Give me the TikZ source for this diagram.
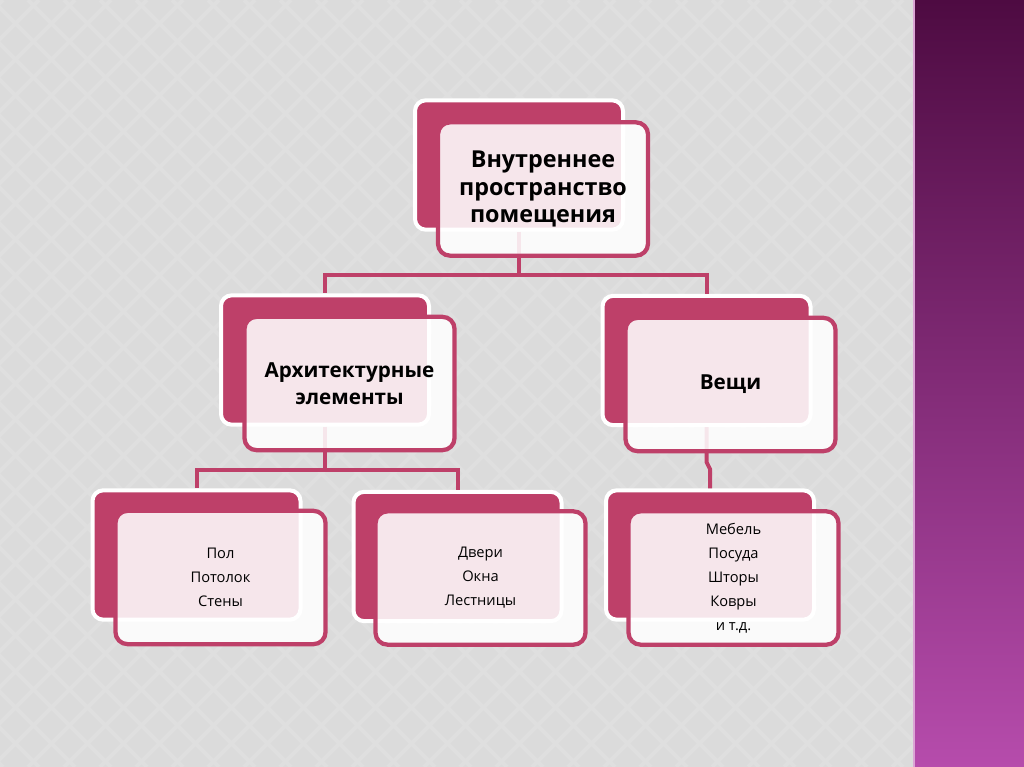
\documentclass[tikz,border=0pt]{standalone}
\usepackage{fontspec}
\setmainfont{Open Sans}
\usetikzlibrary{positioning}
\definecolor{rose}{RGB}{190,64,105}
\definecolor{bggray}{RGB}{219,219,219}
\definecolor{bgline}{RGB}{223,223,223}
\definecolor{plumtop}{RGB}{78,11,66}
\definecolor{plumbot}{RGB}{182,76,172}
\begin{document}
\begin{tikzpicture}[x=0.75pt,y=-0.75pt]
\tikzstyle{every node}=[font=\fontsize{11}{18}\selectfont]
\tikzstyle{backbox}=[draw=white, line width=3pt, fill=rose, rounded corners=8pt,
  minimum width=156pt, minimum height=97pt]
\tikzstyle{frontbox}=[draw=rose, line width=3.2pt, fill=white, fill opacity=0.87,
  text opacity=1, rounded corners=9pt, minimum width=157.5pt, minimum height=100pt,
  align=center, text=black]
\tikzstyle{headbox}=[frontbox, font=\fontsize{15.5}{20}\selectfont\bfseries]
\tikzstyle{link}=[draw=rose, line width=3pt]

\useasboundingbox (0,0) rectangle (1024,767);

% grey background with a faint diamond pattern
\fill[bggray] (0,0) rectangle (913,767);
\begin{scope}
\clip (0,0) rectangle (913,767);
\foreach \k in {-800,-764,...,1000} {
	\draw[bgline, line width=3pt] (\k,0) -- (\k+767,767);
	\draw[bgline, line width=3pt] (\k,767) -- (\k+767,0);
}
\end{scope}

% purple strip on the right
\shade[top color=plumtop, bottom color=plumbot] (913,0) rectangle (1024,767);
\draw[plumbot!50!white, line width=0.8pt] (914,0) -- (914,767);

% back boxes
\node[backbox] (topback) at (519,165) {};
\node[backbox] (archback) at (325,360) {};
\node[backbox] (veshback) at (706.5,360.5) {};
\node[backbox] (polback) at (196.5,555) {};
\node[backbox] (dveriback) at (457.5,556.5) {};
\node[backbox] (mebelback) at (710,555) {};

% connectors
\coordinate (j1) at (519,275);
\coordinate (j2) at (325,470);
\coordinate (j3) at (706.5,462);
\coordinate (j4) at (710,469);
\draw[link] (topback.south) -- (j1) -| (archback.north);
\draw[link] (j1) -| (veshback.north);
\draw[link] (archback.south) -- (j2) -| (polback.north);
\draw[link] (j2) -| (dveriback.north);
\draw[link] (veshback.south) -- (j3) -- (j4) -- (mebelback.north);

% front boxes
\node[headbox, font=\fontsize{17.5}{20.5}\selectfont\bfseries] (top) at (543,189)
  {Внутреннее\\пространство\\помещения};
\node[headbox] (arch) at (349.5,383.5) {Архитектурные\\элементы};
\node[headbox] (vesh) at (730.5,384.5) {Вещи};
\node[frontbox] (pol) at (220.5,577.5) {Пол\\Потолок\\Стены};
\node[frontbox] (dveri) at (480.5,578) {Двери\\Окна\\Лестницы};
\node[frontbox] (mebel) at (733.5,578) {Мебель\\Посуда\\Шторы\\Ковры\\и т.д.};

\end{tikzpicture}
\end{document}
